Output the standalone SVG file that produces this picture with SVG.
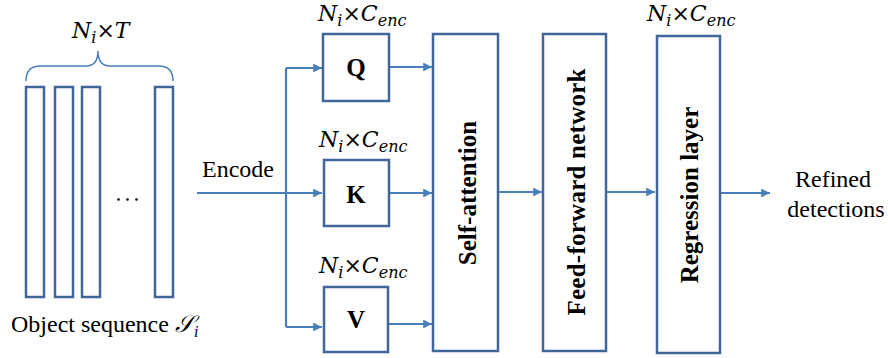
<svg xmlns="http://www.w3.org/2000/svg" width="888" height="358" viewBox="0 0 888 358">
<defs>
<style>
.box{fill:#fff;stroke:#41679A;stroke-width:2.5}
.col{fill:#fff;stroke:#41679A;stroke-width:2.5}
.ln{fill:none;stroke:#4A7EBB;stroke-width:2.2}
.br{fill:none;stroke:#4A7EBB;stroke-width:1.5}
.t{font-family:'Liberation Serif','Times New Roman',serif;font-size:24px;fill:#000}
.b{font-family:'Liberation Serif','Times New Roman',serif;font-size:25px;font-weight:bold;fill:#000}
.m{font-family:'DejaVu Serif','Liberation Serif',serif;font-size:22px;font-style:italic;fill:#000}
.s{font-size:16px}
</style>
<marker id="ah" viewBox="0 0 10 10" refX="10" refY="5" markerWidth="4" markerHeight="4" orient="auto" markerUnits="strokeWidth">
<path d="M0,0 L10,5 L0,10 Z" fill="#4A7EBB"/>
</marker>
</defs>
<g id="sequence">
<path class="br" d="M26,81 Q26,66 40,66 L86,66 Q98,66 98,51 Q98,66 110,66 L159,66 Q173,66 173,81"/>
<text class="m" x="72" y="38">N<tspan class="s" dy="5">i</tspan><tspan font-style="normal" dy="-5">×</tspan>T</text>
<rect class="col" x="26" y="87" width="18" height="210"/>
<rect class="col" x="55" y="87" width="18" height="210"/>
<rect class="col" x="82" y="87" width="18" height="210"/>
<rect class="col" x="155" y="87" width="18" height="210"/>
<circle cx="118.5" cy="199.5" r="1.3" fill="#000"/>
<circle cx="127.5" cy="199.5" r="1.3" fill="#000"/>
<circle cx="136.5" cy="199.5" r="1.3" fill="#000"/>
<text class="t" x="11" y="332">Object sequence <tspan font-family="'DejaVu Serif',serif" font-style="italic">𝒮</tspan><tspan font-size="16" font-style="italic" dy="5">i</tspan></text>
</g>
<text class="t" x="202" y="177">Encode</text>
<g id="connectors">
<path class="ln" d="M197,193 L286,193"/>
<path class="ln" d="M286,68 L286,327"/>
<path class="ln" d="M286,68 L322,68" marker-end="url(#ah)"/>
<path class="ln" d="M286,193 L322,193" marker-end="url(#ah)"/>
<path class="ln" d="M286,327 L322,327" marker-end="url(#ah)"/>
<path class="ln" d="M389,67 L432,67" marker-end="url(#ah)"/>
<path class="ln" d="M389,193 L432,193" marker-end="url(#ah)"/>
<path class="ln" d="M389,324 L432,324" marker-end="url(#ah)"/>
<path class="ln" d="M498,192 L542,192" marker-end="url(#ah)"/>
<path class="ln" d="M606,192 L655,192" marker-end="url(#ah)"/>
<path class="ln" d="M720,193 L770,193" marker-end="url(#ah)"/>
</g>
<g id="Q">
<text class="m" x="318" y="21">N<tspan class="s" dy="5">i</tspan><tspan font-style="normal" dy="-5">×</tspan>C<tspan class="s" dy="5">enc</tspan></text>
<rect class="box" x="323" y="34" width="66" height="67"/>
<text class="b" x="356" y="76" text-anchor="middle" font-size="23">Q</text>
</g>
<g id="K">
<text class="m" x="319" y="147">N<tspan class="s" dy="5">i</tspan><tspan font-style="normal" dy="-5">×</tspan>C<tspan class="s" dy="5">enc</tspan></text>
<rect class="box" x="324" y="160" width="65" height="66"/>
<text class="b" x="356" y="203" text-anchor="middle" font-size="23">K</text>
</g>
<g id="V">
<text class="m" x="319" y="273">N<tspan class="s" dy="5">i</tspan><tspan font-style="normal" dy="-5">×</tspan>C<tspan class="s" dy="5">enc</tspan></text>
<rect class="box" x="324" y="287" width="64" height="65"/>
<text class="b" x="356" y="328" text-anchor="middle" font-size="23">V</text>
</g>
<g id="self-attention">
<rect class="box" x="433" y="34" width="65" height="317"/>
<text class="b" transform="translate(476,193) rotate(-90)" text-anchor="middle">Self-attention</text>
</g>
<g id="ffn">
<rect class="box" x="543" y="34" width="63" height="317"/>
<text class="b" transform="translate(585,192) rotate(-90)" text-anchor="middle" textLength="247">Feed-forward network</text>
</g>
<g id="regression">
<text class="m" x="647" y="21">N<tspan class="s" dy="5">i</tspan><tspan font-style="normal" dy="-5">×</tspan>C<tspan class="s" dy="5">enc</tspan></text>
<rect class="box" x="657" y="36" width="63" height="317"/>
<text class="b" transform="translate(698,195) rotate(-90)" text-anchor="middle">Regression layer</text>
</g>
<g id="output">
<text class="t" x="833" y="187" text-anchor="middle">Refined</text>
<text class="t" x="836" y="217" text-anchor="middle">detections</text>
</g>
</svg>
